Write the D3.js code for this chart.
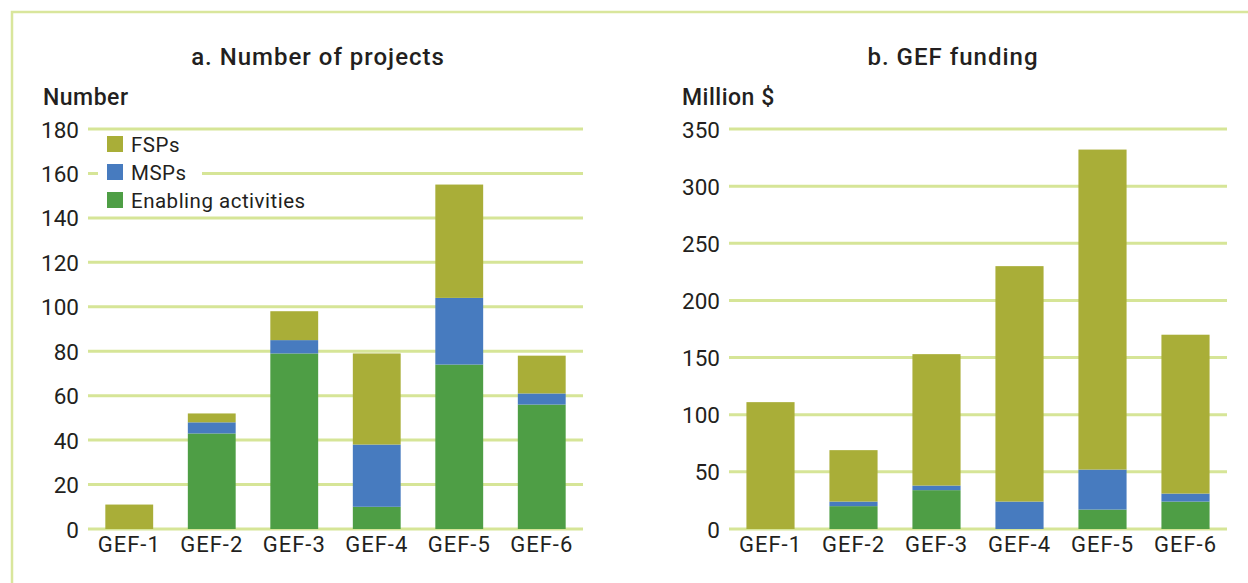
<!DOCTYPE html>
<html>
<head>
<meta charset="utf-8">
<script src="https://cdn.jsdelivr.net/npm/d3@7"></script>
<style>
  body { margin: 0; background: #fff; }
  svg text { font-family: Roboto, "Open Sans", sans-serif; fill: #231f20; }
</style>
</head>
<body>
<svg id="canvas" width="1248" height="583"></svg>
<script>
const categories = ['GEF-1', 'GEF-2', 'GEF-3', 'GEF-4', 'GEF-5', 'GEF-6']
const seriesNames = ['Enabling activities', 'MSPs', 'FSPs']
const colors = ['#4e9e45', '#477bbf', '#a9ae38']

// a. number of projects
const projEA = [0, 43, 79, 10, 74, 56]
const projMSP = [0, 5, 6, 28, 30, 5]
const projFSP = [11, 4, 13, 41, 51, 17]
const projTicks = [0, 20, 40, 60, 80, 100, 120, 140, 160, 180]

// b. GEF funding, million $
const fundEA = [0, 20, 34, 0, 17, 24]
const fundMSP = [0, 4, 4, 24, 35, 7]
const fundFSP = [111, 45, 115, 206, 280, 139]
const fundTicks = [0, 50, 100, 150, 200, 250, 300, 350]

let svg = d3.select('#canvas')

// outer frame
svg.append('rect')
  .attr('x', 12).attr('y', 12).attr('width', 1250).attr('height', 600)
  .attr('fill', 'none').attr('stroke', '#d9e69c').attr('stroke-width', 2.5)

let drawPanel = (opts) => {
  let g = svg.append('g')
  let x = d3.scaleBand().domain(categories).range([opts.x0, opts.x1]).paddingInner(0.42).paddingOuter(0.21)
  let y = d3.scaleLinear().domain([0, opts.max]).range([529, 129])

  let rows = categories.map((c, i) => ({ cat: c, ea: opts.ea[i], msp: opts.msp[i], fsp: opts.fsp[i] }))
  let stacked = d3.stack().keys(['ea', 'msp', 'fsp'])(rows)

  // gridlines
  g.selectAll('line.grid').data(opts.ticks).enter().append('line')
    .attr('x1', opts.x0).attr('x2', opts.x1)
    .attr('y1', d => y(d)).attr('y2', d => y(d))
    .attr('stroke', '#d6e597').attr('stroke-width', 3)

  // bars
  g.selectAll('g.layer').data(stacked).enter().append('g')
    .attr('fill', (d, i) => colors[i])
    .selectAll('rect').data(d => d).enter().append('rect')
    .attr('x', d => x(d.data.cat))
    .attr('width', x.bandwidth())
    .attr('y', d => y(d[1]))
    .attr('height', d => y(d[0]) - y(d[1]))

  // y tick labels
  let yAxis = d3.axisLeft(y).tickValues(opts.ticks).tickSize(0).tickPadding(0)
  let ya = g.append('g').attr('transform', `translate(${opts.x0 - 9},0)`).call(yAxis)
  ya.select('.domain').remove()
  ya.selectAll('text').style('font-size', '22.5px').attr('dy', '0.36em')
    .style('font-family', 'Roboto, sans-serif').attr('fill', '#231f20')

  // x labels
  let xAxis = d3.axisBottom(x).tickSize(0).tickPadding(0)
  let xa = g.append('g').attr('transform', 'translate(0,535)').call(xAxis)
  xa.select('.domain').remove()
  xa.selectAll('text').style('font-size', '22px').attr('dy', '0.75em')
    .style('font-family', 'Roboto, sans-serif').attr('fill', '#231f20')
    .style('letter-spacing', '1px')

  // title and unit
  g.append('text').attr('x', opts.titleX).attr('y', 65).attr('text-anchor', 'middle')
    .style('font-size', '24px').style('font-weight', 500).style('letter-spacing', '1px').text(opts.title)
  g.append('text').attr('x', opts.unitX).attr('y', 105)
    .style('font-size', '23px').style('font-weight', 500).style('letter-spacing', '0.5px').text(opts.unit)
}

drawPanel({ x0: 88, x1: 583, max: 180, ticks: projTicks, ea: projEA, msp: projMSP, fsp: projFSP,
  title: 'a. Number of projects', titleX: 318, unit: 'Number', unitX: 43 })
drawPanel({ x0: 729, x1: 1227, max: 350, ticks: fundTicks, ea: fundEA, msp: fundMSP, fsp: fundFSP,
  title: 'b. GEF funding', titleX: 953, unit: 'Million $', unitX: 682 })

// legend (left panel)
let legendOrder = [2, 1, 0]
let leg = svg.append('g')
leg.append('rect').attr('x', 98).attr('y', 132).attr('width', 104).attr('height', 80).attr('fill', '#fff')
legendOrder.forEach((k, i) => {
  leg.append('rect').attr('x', 107).attr('y', 136 + i * 28).attr('width', 16).attr('height', 16).attr('fill', colors[k])
  leg.append('text').attr('x', 131).attr('y', 152 + i * 28).style('font-size', '20.5px').style('letter-spacing', '0.5px').text(seriesNames[k])
})
</script>
</body>
</html>
